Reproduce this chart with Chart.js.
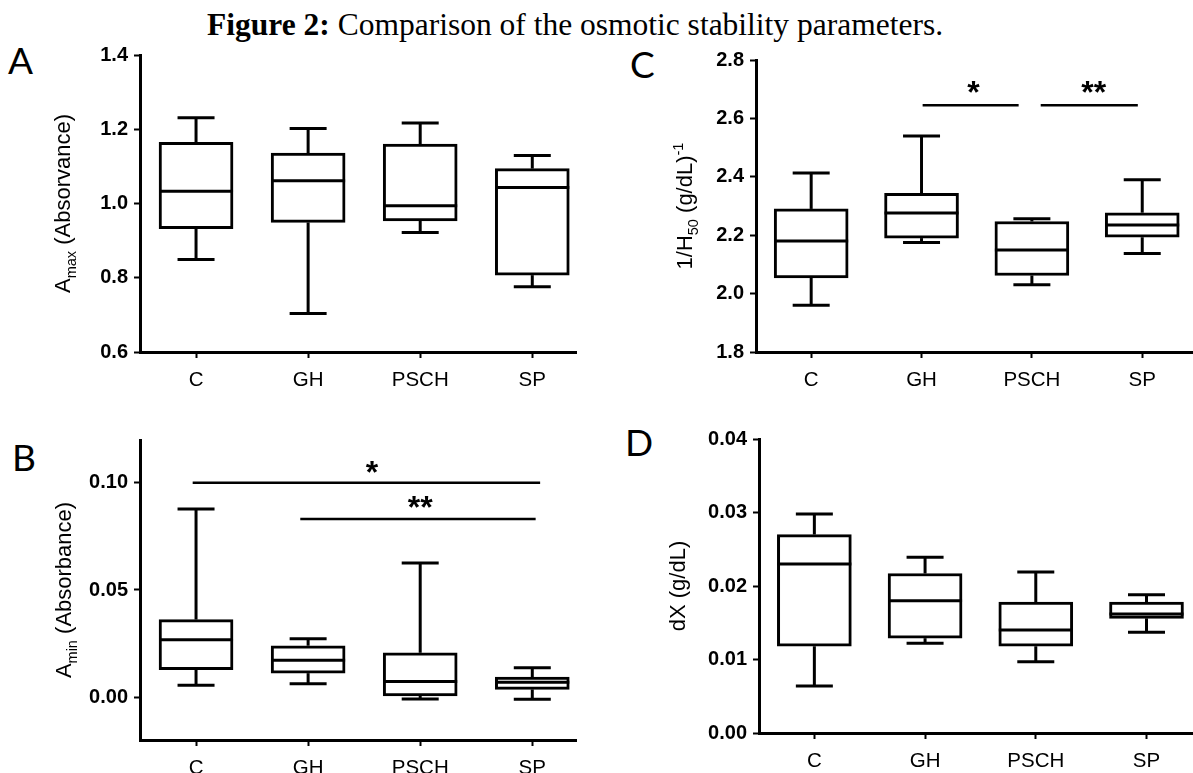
<!DOCTYPE html>
<html>
<head>
<meta charset="utf-8">
<script src="https://cdn.jsdelivr.net/npm/chart.js@4"></script>
<style>
  body { margin: 0; width: 1193px; height: 773px; background: #fff; position: relative; overflow: hidden; }
  canvas { position: absolute; }
  #figTitle { position: absolute; left: 207px; top: 9px; white-space: nowrap; font-family: "Liberation Serif", "Times New Roman", serif; font-size: 31.5px; line-height: 31.5px; color: #000; }
  .letter { position: absolute; font-family: Lato, "Open Sans", sans-serif; font-size: 37px; line-height: 37px; color: #000; }
</style>
</head>
<body>
<div id="figTitle"><b>Figure 2:</b> Comparison of the osmotic stability parameters.</div>
<div class="letter" style="left:8px;top:41px">A</div>
<div class="letter" style="left:12px;top:438px">B</div>
<div class="letter" style="left:630px;top:45px">C</div>
<div class="letter" style="left:625px;top:423px">D</div>
<canvas id="chartA" width="600" height="400" style="left:0;top:0"></canvas>
<canvas id="chartB" width="600" height="373" style="left:0;top:400px"></canvas>
<canvas id="chartC" width="593" height="400" style="left:600px;top:0"></canvas>
<canvas id="chartD" width="593" height="373" style="left:600px;top:400px"></canvas>
<script>
const categories = ['C', 'GH', 'PSCH', 'SP'];

// A - Amax (absorbance)
const amaxMin = [0.849, 0.704, 0.922, 0.776];
const amaxQ1  = [0.932, 0.949, 0.953, 0.807];
const amaxMed = [1.033, 1.061, 0.994, 1.043];
const amaxQ3  = [1.165, 1.136, 1.160, 1.094];
const amaxMax = [1.231, 1.202, 1.217, 1.129];
const amaxTicks = [0.6, 0.8, 1.0, 1.2, 1.4];

// B - Amin (absorbance)
const aminMin = [0.0055, 0.0062, -0.0009, -0.0010];
const aminQ1  = [0.0128, 0.0112, 0.0006, 0.0036];
const aminMed = [0.0268, 0.0172, 0.0073, 0.0069];
const aminQ3  = [0.0362, 0.0240, 0.0207, 0.0094];
const aminMax = [0.0878, 0.0273, 0.0626, 0.0137];
const aminTicks = [0.00, 0.05, 0.10];
// significance bars: [from category, to category, level, label, label x, label y]
const aminSig = [[-0.03, 3.07, 0.100, '*', 1.57, 0.107], [0.93, 3.03, 0.0831, '**', 2.0, 0.0905]];

// C - 1/H50
const h50Min = [1.960, 2.175, 2.030, 2.137];
const h50Q1  = [2.054, 2.190, 2.062, 2.193];
const h50Med = [2.180, 2.276, 2.149, 2.235];
const h50Q3  = [2.290, 2.343, 2.247, 2.277];
const h50Max = [2.413, 2.540, 2.256, 2.390];
const h50Ticks = [1.8, 2.0, 2.2, 2.4, 2.6, 2.8];
const h50Sig = [[1.01, 1.88, 2.645, '*', 1.47, 2.705], [2.08, 2.96, 2.645, '**', 2.56, 2.705]];

// D - dX
const dxMin = [0.0064, 0.0122, 0.0097, 0.0137];
const dxQ1  = [0.0118, 0.0129, 0.0118, 0.0156];
const dxMed = [0.0230, 0.0180, 0.0140, 0.0162];
const dxQ3  = [0.0270, 0.0217, 0.0178, 0.0178];
const dxMax = [0.0298, 0.0239, 0.0219, 0.0188];
const dxTicks = [0.00, 0.01, 0.02, 0.03, 0.04];

const BOX_W = 74;
const CAP_W = 37;
const FONT = '"Liberation Sans", Arial, sans-serif';

function line(ctx, x1, y1, x2, y2) {
  ctx.beginPath();
  ctx.moveTo(x1, y1);
  ctx.lineTo(x2, y2);
  ctx.stroke();
}

// rotated axis title with sub/superscript pieces
function drawVerticalTitle(ctx, cx, cy, parts, size) {
  ctx.save();
  ctx.translate(cx, cy);
  ctx.rotate(-Math.PI / 2);
  ctx.fillStyle = '#000';
  ctx.textBaseline = 'alphabetic';
  let total = 0;
  parts.forEach(p => {
    const s = p.sub || p.sup ? size * 0.66 : size;
    ctx.font = s + 'px ' + FONT;
    p.w = ctx.measureText(p.t).width;
    total += p.w;
  });
  let x = -total / 2;
  parts.forEach(p => {
    const s = p.sub || p.sup ? size * 0.66 : size;
    ctx.font = s + 'px ' + FONT;
    let dy = size * 0.36;
    if (p.sub) dy += size * 0.28;
    if (p.sup) dy -= size * 0.42;
    ctx.fillText(p.t, x, dy);
    x += p.w;
  });
  ctx.restore();
}

function boxPlugin(p) {
  return {
    id: 'box' + p.key,
    afterDatasetsDraw(chart) {
      const ctx = chart.ctx;
      const xs = chart.scales.x, ys = chart.scales.y;
      ctx.save();
      ctx.strokeStyle = '#000';
      ctx.lineWidth = 3;
      categories.forEach((c, i) => {
        const cx = xs.getPixelForValue(i);
        const yMin = ys.getPixelForValue(p.min[i]);
        const yQ1 = ys.getPixelForValue(p.q1[i]);
        const yMed = ys.getPixelForValue(p.med[i]);
        const yQ3 = ys.getPixelForValue(p.q3[i]);
        const yMax = ys.getPixelForValue(p.max[i]);
        line(ctx, cx, yQ3, cx, yMax);
        line(ctx, cx, yQ1, cx, yMin);
        line(ctx, cx - CAP_W / 2, yMax, cx + CAP_W / 2, yMax);
        line(ctx, cx - CAP_W / 2, yMin, cx + CAP_W / 2, yMin);
        line(ctx, cx - BOX_W / 2, yMed, cx + BOX_W / 2, yMed);
      });
      ctx.lineWidth = 2.5;
      ctx.fillStyle = '#000';
      ctx.textAlign = 'center';
      ctx.textBaseline = 'alphabetic';
      ctx.font = 'bold 32px ' + FONT;
      (p.sig || []).forEach(s => {
        const yy = ys.getPixelForValue(s[2]);
        line(ctx, xs.getPixelForValue(s[0]), yy, xs.getPixelForValue(s[1]), yy);
        ctx.fillText(s[3], xs.getPixelForValue(s[4]), ys.getPixelForValue(s[5]) + 15);
      });
      ctx.restore();
    },
    afterDraw(chart) {
      const a = chart.chartArea;
      drawVerticalTitle(chart.ctx, a.left - p.titleOffset, (a.top + a.bottom) / 2, p.title, 22);
    }
  };
}

function makePanel(p) {
  return new Chart(document.getElementById(p.canvas), {
    type: 'bar',
    data: {
      datasets: [{
        data: categories.map((c, i) => ({ x: i, y: [p.q1[i], p.q3[i]] })),
        backgroundColor: '#fff',
        borderColor: '#000',
        borderWidth: 3,
        borderSkipped: false,
        barThickness: BOX_W
      }]
    },
    options: {
      responsive: false,
      animation: false,
      events: [],
      layout: { padding: { left: 0, top: p.padTop, right: p.padRight, bottom: 0 } },
      plugins: { legend: { display: false }, tooltip: { enabled: false } },
      scales: {
        x: {
          type: 'linear',
          min: -0.5,
          max: p.xMax,
          offset: false,
          afterBuildTicks: s => { s.ticks = categories.map((c, i) => ({ value: i })); },
          afterFit: s => { s.height = p.xHeight; },
          ticks: { callback: v => categories[v], color: '#000', padding: 10, maxRotation: 0, autoSkip: false, font: { family: FONT, size: 20.5 } },
          grid: { drawOnChartArea: false, offset: false, tickLength: 6, tickWidth: 2, tickColor: '#000', color: '#000' },
          border: { color: '#000', width: 3 }
        },
        y: {
          min: p.yMin,
          max: p.yMax,
          afterBuildTicks: s => { s.ticks = p.ticks.map(v => ({ value: v })); },
          afterFit: s => { s.width = p.yWidth; },
          ticks: { callback: v => v.toFixed(p.dec), color: '#000', padding: 6, font: { family: FONT, size: 20, weight: 'bold' } },
          grid: { drawOnChartArea: false, tickLength: 6, tickWidth: 2, tickColor: '#000', color: '#000' },
          border: { color: '#000', width: 3 }
        }
      }
    },
    plugins: [boxPlugin(p)]
  });
}

makePanel({
  key: 'A', canvas: 'chartA', min: amaxMin, q1: amaxQ1, med: amaxMed, q3: amaxQ3, max: amaxMax,
  ticks: amaxTicks, yMin: 0.6, yMax: 1.4, dec: 1, xMax: 3.39,
  padTop: 55, padRight: 24, yWidth: 140, xHeight: 48, titleOffset: 78,
  title: [{ t: 'A' }, { t: 'max', sub: true }, { t: ' (Absorvance)' }]
});
makePanel({
  key: 'B', canvas: 'chartB', min: aminMin, q1: aminQ1, med: aminMed, q3: aminQ3, max: aminMax,
  ticks: aminTicks, yMin: -0.02, yMax: 0.12, dec: 2, xMax: 3.39, sig: aminSig,
  padTop: 40, padRight: 24, yWidth: 140, xHeight: 33, titleOffset: 77,
  title: [{ t: 'A' }, { t: 'min', sub: true }, { t: ' (Absorbance)' }]
});
makePanel({
  key: 'C', canvas: 'chartC', min: h50Min, q1: h50Q1, med: h50Med, q3: h50Q3, max: h50Max,
  ticks: h50Ticks, yMin: 1.8, yMax: 2.8, dec: 1, xMax: 3.46, sig: h50Sig,
  padTop: 60, padRight: 0, yWidth: 156, xHeight: 48, titleOffset: 72,
  title: [{ t: '1/H' }, { t: '50', sub: true }, { t: ' (g/dL)' }, { t: '-1', sup: true }]
});
makePanel({
  key: 'D', canvas: 'chartD', min: dxMin, q1: dxQ1, med: dxMed, q3: dxQ3, max: dxMax,
  ticks: dxTicks, yMin: 0, yMax: 0.04, dec: 2, xMax: 3.42,
  padTop: 39, padRight: 0, yWidth: 159, xHeight: 40, titleOffset: 82,
  title: [{ t: 'dX (g/dL)' }]
});
</script>
</body>
</html>
